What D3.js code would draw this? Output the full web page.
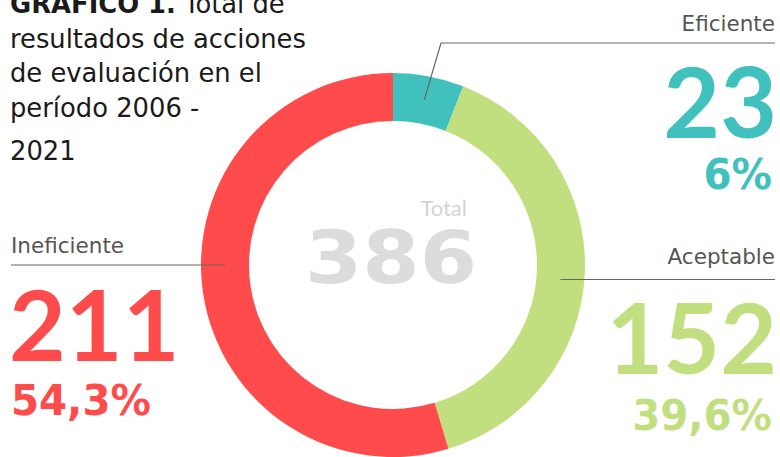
<!DOCTYPE html>
<html>
<head>
<meta charset="utf-8">
<script src="https://cdn.jsdelivr.net/npm/d3@7"></script>
<style>
  body { margin: 0; background: #fff; }
  svg { display: block; font-family: "DejaVu Sans", sans-serif; }
</style>
</head>
<body>
<svg width="780" height="457"></svg>
<script>
const categories = ['Eficiente', 'Aceptable', 'Ineficiente'];
const counts = [23, 152, 211];
const percentLabels = ['6%', '39,6%', '54,3%'];
const totalLabel = 'Total';
const titleLines = ['resultados de acciones', 'de evaluación en el', 'período 2006 -', '2021'];

const colors = ['#41c1be', '#c2df80', '#ff4b4b'];

const svg = d3.select('svg');

const cx = 393, cy = 265;
const outerR = 192, innerR = 144;
const midR = (outerR + innerR) / 2;

const data = categories.map((c, i) => ({ name: c, value: counts[i], pct: percentLabels[i], color: colors[i] }));

const pie = d3.pie().sort(null).value(d => d.value);
const arc = d3.arc().innerRadius(innerR).outerRadius(outerR);
const midArc = d3.arc().innerRadius(midR).outerRadius(midR);

const g = svg.append('g').attr('transform', `translate(${cx}, ${cy})`);
const arcs = pie(data);

g.selectAll('path').data(arcs)
  .enter().append('path')
    .attr('d', arc)
    .attr('fill', d => d.data.color);

// center total
const total = d3.sum(counts);
svg.append('text')
  .attr('x', 467).attr('y', 216)
  .attr('text-anchor', 'end')
  .attr('font-family', 'Lato, sans-serif')
  .attr('font-size', 22)
  .attr('fill', '#d4d4d4')
  .text(totalLabel);
svg.append('text')
  .attr('transform', `translate(${cx - 2}, 283) scale(1.13, 1)`)
  .attr('text-anchor', 'middle')
  .attr('font-size', 73)
  .attr('font-weight', 700)
  .attr('fill', '#dcdcdc')
  .text(total);

// title
const title = svg.append('text')
  .attr('x', 10).attr('font-size', 25.8).attr('fill', '#1a1a1a');
title.append('tspan').attr('x', 10).attr('y', 13).attr('font-weight', 700).text('GRÁFICO 1.');
title.append('tspan').text(' Total de');
const lineY = [47.5, 82, 116.5, 160];
titleLines.forEach((t, i) => {
  title.append('tspan').attr('x', 10).attr('y', lineY[i]).text(t);
});

// label layout per category
const layout = {
  Eficiente:   { anchor: 'end',   x: 775, nameY: 31,  numY: 138, pctY: 189, lineY: 43 },
  Aceptable:   { anchor: 'end',   x: 775, nameY: 264, numY: 374, pctY: 430, lineY: 279.5 },
  Ineficiente: { anchor: 'start', x: 11,  nameY: 253, numY: 361, pctY: 415, lineY: 265 }
};

const lineColor = '#666';
const xOnRing = (y, side) => cx + side * Math.sqrt(midR * midR - (y - cy) * (y - cy));

arcs.forEach(a => {
  const d = a.data;
  const L = layout[d.name];
  let pts;
  if (d.name === 'Eficiente') {
    const c = midArc.centroid(a);
    pts = [[cx + c[0], cy + c[1]], [441, L.lineY], [775, L.lineY]];
  } else if (d.name === 'Aceptable') {
    pts = [[xOnRing(L.lineY, 1), L.lineY], [775, L.lineY]];
  } else {
    pts = [[11, L.lineY], [xOnRing(L.lineY, -1), L.lineY]];
  }
  svg.append('path')
    .attr('d', d3.line()(pts))
    .attr('fill', 'none')
    .attr('stroke', lineColor)
    .attr('stroke-width', 1.2);

  svg.append('text')
    .attr('x', L.x).attr('y', L.nameY)
    .attr('text-anchor', L.anchor)
    .attr('font-size', 21.5)
    .attr('fill', '#555')
    .text(d.name);

  svg.append('text')
    .attr('x', L.anchor === 'end' ? L.x + 2 : L.x - 2).attr('y', L.numY)
    .attr('text-anchor', L.anchor)
    .attr('font-family', 'Lato, sans-serif')
    .attr('font-size', 98)
    .attr('font-weight', 700)
    .attr('fill', d.color)
    .text(d.value);

  svg.append('text')
    .attr('transform', `translate(${L.anchor === 'end' ? L.x - 3 : L.x}, ${L.pctY}) scale(0.96, 1)`)
    .attr('text-anchor', L.anchor)
    .attr('font-size', 42)
    .attr('font-weight', 700)
    .attr('fill', d.color)
    .text(d.pct);
});
</script>
</body>
</html>
